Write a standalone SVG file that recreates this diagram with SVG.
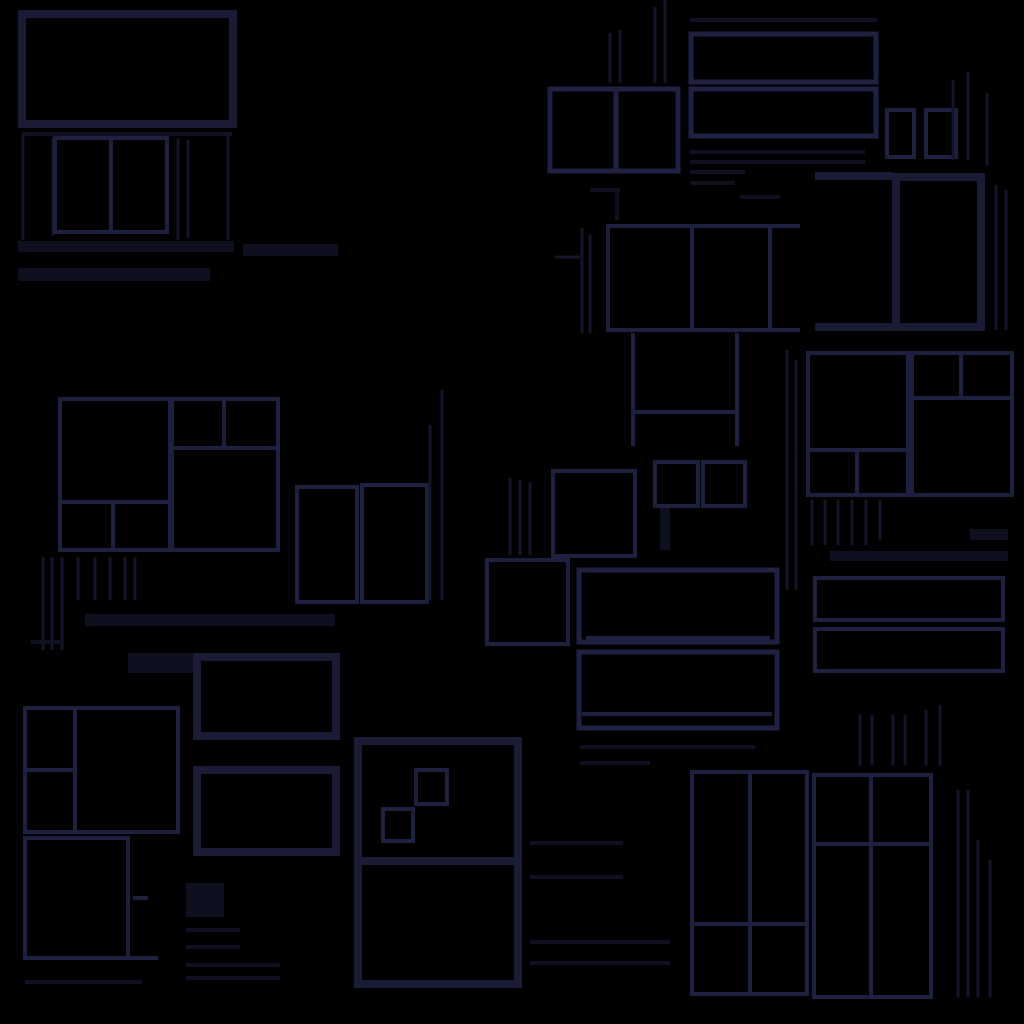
<svg xmlns="http://www.w3.org/2000/svg" width="1024" height="1024" viewBox="0 0 1024 1024">
<style>
.f{fill:none;stroke:#1e2040;stroke-width:4}
.t{fill:none;stroke:#1a1c36;stroke-width:8}
.m{fill:none;stroke:#1f2142;stroke-width:5}
.d{fill:none;stroke:#0f1020;stroke-width:4}
.b{fill:#0f101f}
.l{stroke:#14152a;stroke-width:3;fill:none}
</style>
<rect width="1024" height="1024" fill="#000"/>
<g id="top-left">
<rect class="t" x="22" y="14" width="211" height="110" stroke-width="9"/>
<path class="d" d="M22 134H232" stroke-width="3"/>
<path class="l" d="M23 134V240M53 138V236M178 138V240M188 140V238M228 134V240"/>
<rect class="f" x="55" y="138" width="112" height="94"/>
<path class="f" d="M111 138V232"/>
<rect class="b" x="18" y="241" width="216" height="11"/>
<rect class="b" x="243" y="244" width="95" height="12"/>
<rect class="b" x="18" y="268" width="192" height="13"/>
</g>
<g id="top-right">
<path class="l" d="M610 33V83M620 30V83M655 7V83M665 0V83"/>
<rect class="m" x="550" y="89" width="128" height="82"/>
<path class="m" d="M616 89V171"/>
<path class="d" d="M690 20H877" stroke-width="2"/>
<rect class="m" x="691" y="34" width="185" height="48"/>
<rect class="m" x="691" y="89" width="185" height="47"/>
<path class="d" d="M690 152H865M690 162H865M690 172H745M690 183H735M740 197H780"/>
<rect class="f" x="887" y="110" width="27" height="47"/>
<rect class="f" x="926" y="110" width="30" height="47"/>
<path class="l" d="M953 80V160M968 72V160M987 93V165"/>
<rect class="t" x="896" y="177" width="85" height="150"/>
<path class="t" d="M815 176H892M815 327H892"/>
<path class="l" d="M996 185V330M1006 190V330"/>
<path class="d" d="M590 190H620M617 190V220"/>
<rect class="f" x="608" y="226" width="162" height="104"/>
<path class="f" d="M692 226V330M770 226H800M770 330H800"/>
<path class="l" d="M582 228V333M590 235V333M555 257H580"/>
<path class="f" d="M633 333V446M737 333V446M635 412H737"/>
</g>
<g id="middle">
<rect class="f" x="655" y="462" width="43" height="44"/>
<rect class="f" x="703" y="462" width="42" height="44"/>
<rect class="b" x="660" y="508" width="10" height="42"/>
<rect class="f" x="553" y="471" width="82" height="85"/>
<path class="l" d="M510 478V555M520 480V555M530 482V555"/>
<rect class="f" x="487" y="560" width="81" height="84"/>
<rect class="m" x="579" y="570" width="198" height="72"/>
<path class="f" d="M586 638H770"/>
<rect class="m" x="579" y="652" width="198" height="76"/>
<path class="f" d="M582 714H772"/>
<path class="d" d="M580 747H755M580 763H650"/>
</g>
<g id="right-mid">
<rect class="f" x="808" y="353" width="100" height="142"/>
<path class="f" d="M808 450H908M857 450V495"/>
<rect class="f" x="912" y="353" width="100" height="142"/>
<path class="f" d="M912 398H1012M961 353V398"/>
<path class="l" d="M787 350V590M796 360V590"/>
<path class="l" d="M812 500V545M825 500V545M838 500V545M852 500V545M866 500V545M880 500V540"/>
<rect class="b" x="970" y="529" width="38" height="11"/>
<rect class="b" x="830" y="551" width="178" height="10"/>
<rect class="f" x="815" y="578" width="188" height="42"/>
<rect class="f" x="815" y="629" width="188" height="42"/>
<path class="l" d="M860 715V765M872 715V765M893 715V765M905 715V765M926 710V765M940 705V765"/>
</g>
<g id="left-mid">
<rect class="f" x="60" y="399" width="110" height="151"/>
<path class="f" d="M60 502H170M113 502V550"/>
<rect class="f" x="172" y="399" width="106" height="151"/>
<path class="f" d="M172 448H278M224 399V448"/>
<rect class="f" x="297" y="487" width="60" height="115"/>
<rect class="f" x="362" y="485" width="65" height="117"/>
<path class="l" d="M430 425V600M442 390V600"/>
<path class="l" d="M43 557V650M52 557V650M62 557V650M78 557V600M95 557V600M110 557V600M125 557V600M135 557V600"/>
<rect class="b" x="85" y="614" width="250" height="12"/>
</g>
<g id="bottom-left">
<path class="d" d="M31 642H62"/>
<rect class="b" x="128" y="653" width="65" height="20"/>
<rect class="t" x="197" y="657" width="139" height="79"/>
<rect class="t" x="197" y="770" width="139" height="82"/>
<rect class="f" x="25" y="708" width="153" height="124"/>
<path class="f" d="M75 708V832M25 770H75"/>
<rect class="f" x="25" y="838" width="103" height="120"/>
<path class="f" d="M128 838V958H158M133 898H148"/>
<path class="d" d="M25 982H142" stroke-width="2"/>
<rect class="b" x="186" y="883" width="38" height="34"/>
<path class="d" d="M186 930H240M186 947H240M186 965H280M186 978H280"/>
</g>
<g id="bottom-center">
<rect class="t" x="358" y="741" width="160" height="243"/>
<path class="t" d="M358 861H518" stroke-width="14"/>
<rect class="f" x="416" y="770" width="31" height="34"/>
<rect class="f" x="383" y="809" width="30" height="32"/>
<path class="d" d="M530 843H623M530 877H623M530 942H670M530 963H670"/>
</g>
<g id="bottom-right">
<rect class="f" x="692" y="772" width="115" height="222"/>
<path class="f" d="M750 772V994M692 924H807"/>
<rect class="f" x="814" y="775" width="117" height="222"/>
<path class="f" d="M814 844H931M871 775V997"/>
<path class="l" d="M958 790V997M968 790V997M978 840V997M990 860V997"/>
</g>
</svg>
